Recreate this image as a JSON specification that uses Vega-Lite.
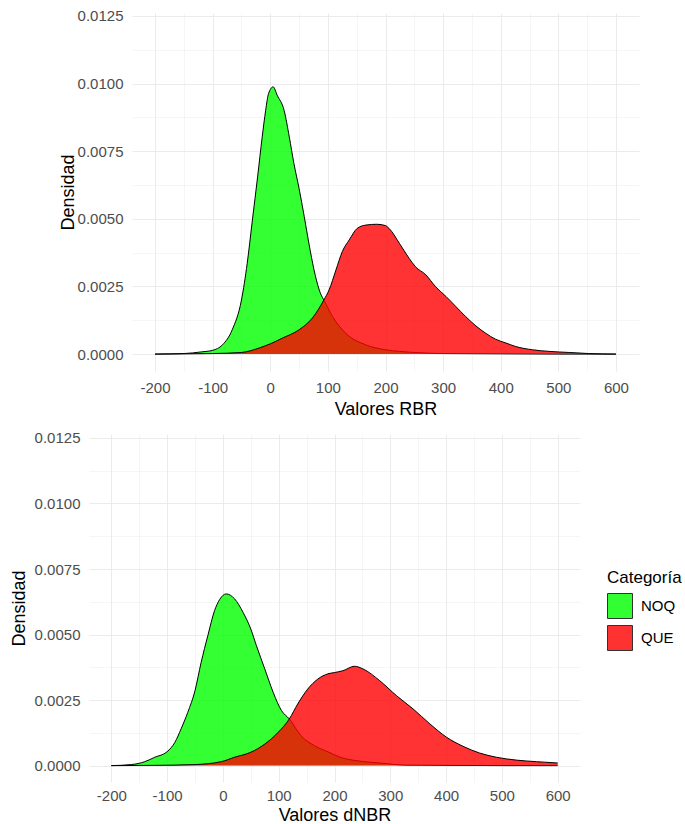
{
  "$schema": "https://vega.github.io/schema/vega-lite/v6.json",
  "background": "white",
  "padding": {"left": 10, "top": 8, "right": 0, "bottom": 0},
  "spacing": 12,
  "center": true,
  "resolve": {"legend": {"fill": "independent"}},
  "config": {
    "view": {"stroke": null},
    "font": "Liberation Sans",
    "axis": {
      "domain": false, "ticks": false, "gridColor": "#ebebeb",
      "labelFont": "Liberation Sans", "labelFontSize": 15, "labelColor": "#4d4d4d",
      "titleFont": "Liberation Sans", "titleFontSize": 18, "titleFontWeight": "normal", "titleColor": "black",
      "labelOverlap": false, "labelFlush": false
    }
  },
  "datasets": {
    "rbr": [
      {"cat": "NOQ", "x": -200, "d": 0}, {"cat": "NOQ", "x": -150, "d": 0.00002}, {"cat": "NOQ", "x": -120, "d": 0.00008},
      {"cat": "NOQ", "x": -100, "d": 0.00014}, {"cat": "NOQ", "x": -83, "d": 0.00034}, {"cat": "NOQ", "x": -66, "d": 0.0009},
      {"cat": "NOQ", "x": -50, "d": 0.002}, {"cat": "NOQ", "x": -40, "d": 0.00336}, {"cat": "NOQ", "x": -31, "d": 0.00496},
      {"cat": "NOQ", "x": -22, "d": 0.00655}, {"cat": "NOQ", "x": -14, "d": 0.00803}, {"cat": "NOQ", "x": -8, "d": 0.00901},
      {"cat": "NOQ", "x": -3, "d": 0.00963}, {"cat": "NOQ", "x": 5, "d": 0.00988}, {"cat": "NOQ", "x": 12, "d": 0.00957},
      {"cat": "NOQ", "x": 24, "d": 0.00901}, {"cat": "NOQ", "x": 33, "d": 0.00803}, {"cat": "NOQ", "x": 41, "d": 0.00705},
      {"cat": "NOQ", "x": 50, "d": 0.00612}, {"cat": "NOQ", "x": 59, "d": 0.00508}, {"cat": "NOQ", "x": 67, "d": 0.0041},
      {"cat": "NOQ", "x": 76, "d": 0.00311}, {"cat": "NOQ", "x": 85, "d": 0.00237}, {"cat": "NOQ", "x": 96, "d": 0.00188},
      {"cat": "NOQ", "x": 108, "d": 0.00139}, {"cat": "NOQ", "x": 131, "d": 0.00077}, {"cat": "NOQ", "x": 166, "d": 0.00034},
      {"cat": "NOQ", "x": 200, "d": 0.00016}, {"cat": "NOQ", "x": 224, "d": 0.0001}, {"cat": "NOQ", "x": 260, "d": 0.00005},
      {"cat": "NOQ", "x": 300, "d": 0.00002}, {"cat": "NOQ", "x": 400, "d": 0.00001}, {"cat": "NOQ", "x": 500, "d": 0},
      {"cat": "NOQ", "x": 600, "d": 0},
      {"cat": "QUE", "x": -200, "d": 0}, {"cat": "QUE", "x": -140, "d": 0.00001}, {"cat": "QUE", "x": -100, "d": 0.00002},
      {"cat": "QUE", "x": -50, "d": 0.00006}, {"cat": "QUE", "x": -20, "d": 0.00022}, {"cat": "QUE", "x": 0, "d": 0.00038},
      {"cat": "QUE", "x": 21, "d": 0.00059}, {"cat": "QUE", "x": 50, "d": 0.0009}, {"cat": "QUE", "x": 73, "d": 0.00133},
      {"cat": "QUE", "x": 93, "d": 0.002}, {"cat": "QUE", "x": 102, "d": 0.00237}, {"cat": "QUE", "x": 114, "d": 0.00311},
      {"cat": "QUE", "x": 125, "d": 0.00379}, {"cat": "QUE", "x": 137, "d": 0.00422}, {"cat": "QUE", "x": 151, "d": 0.00465},
      {"cat": "QUE", "x": 166, "d": 0.00477}, {"cat": "QUE", "x": 185, "d": 0.0048}, {"cat": "QUE", "x": 200, "d": 0.00475},
      {"cat": "QUE", "x": 206, "d": 0.00465}, {"cat": "QUE", "x": 224, "d": 0.0041}, {"cat": "QUE", "x": 241, "d": 0.00354},
      {"cat": "QUE", "x": 252, "d": 0.00323}, {"cat": "QUE", "x": 270, "d": 0.00293}, {"cat": "QUE", "x": 287, "d": 0.00249},
      {"cat": "QUE", "x": 305, "d": 0.00213}, {"cat": "QUE", "x": 322, "d": 0.00176}, {"cat": "QUE", "x": 339, "d": 0.00139},
      {"cat": "QUE", "x": 357, "d": 0.00104}, {"cat": "QUE", "x": 374, "d": 0.00077}, {"cat": "QUE", "x": 391, "d": 0.00055},
      {"cat": "QUE", "x": 409, "d": 0.00041}, {"cat": "QUE", "x": 426, "d": 0.00028}, {"cat": "QUE", "x": 455, "d": 0.00016},
      {"cat": "QUE", "x": 484, "d": 0.0001}, {"cat": "QUE", "x": 519, "d": 0.00006}, {"cat": "QUE", "x": 553, "d": 0.00002},
      {"cat": "QUE", "x": 600, "d": 0}
    ],
    "dnbr": [
      {"cat": "NOQ", "x": -200, "d": 0}, {"cat": "NOQ", "x": -164, "d": 0.00004}, {"cat": "NOQ", "x": -140, "d": 0.00015},
      {"cat": "NOQ", "x": -122, "d": 0.00032}, {"cat": "NOQ", "x": -100, "d": 0.00053}, {"cat": "NOQ", "x": -86, "d": 0.00089},
      {"cat": "NOQ", "x": -75, "d": 0.0014}, {"cat": "NOQ", "x": -63, "d": 0.00203}, {"cat": "NOQ", "x": -50, "d": 0.00286},
      {"cat": "NOQ", "x": -39, "d": 0.00394}, {"cat": "NOQ", "x": -27, "d": 0.00496}, {"cat": "NOQ", "x": -15, "d": 0.00591},
      {"cat": "NOQ", "x": -6, "d": 0.00633}, {"cat": "NOQ", "x": 6, "d": 0.00655}, {"cat": "NOQ", "x": 21, "d": 0.00636},
      {"cat": "NOQ", "x": 36, "d": 0.00585}, {"cat": "NOQ", "x": 50, "d": 0.00521}, {"cat": "NOQ", "x": 60, "d": 0.00458},
      {"cat": "NOQ", "x": 75, "d": 0.00369}, {"cat": "NOQ", "x": 90, "d": 0.0028}, {"cat": "NOQ", "x": 105, "d": 0.0021},
      {"cat": "NOQ", "x": 119, "d": 0.00178}, {"cat": "NOQ", "x": 140, "d": 0.00114}, {"cat": "NOQ", "x": 164, "d": 0.00076},
      {"cat": "NOQ", "x": 190, "d": 0.00051}, {"cat": "NOQ", "x": 210, "d": 0.00032}, {"cat": "NOQ", "x": 239, "d": 0.00019},
      {"cat": "NOQ", "x": 281, "d": 0.0001}, {"cat": "NOQ", "x": 329, "d": 0.00002}, {"cat": "NOQ", "x": 400, "d": 0.00001},
      {"cat": "NOQ", "x": 500, "d": 0}, {"cat": "NOQ", "x": 600, "d": 0},
      {"cat": "QUE", "x": -200, "d": 0}, {"cat": "QUE", "x": -122, "d": 0.00001}, {"cat": "QUE", "x": -50, "d": 0.00004},
      {"cat": "QUE", "x": -3, "d": 0.00015}, {"cat": "QUE", "x": 21, "d": 0.00032}, {"cat": "QUE", "x": 50, "d": 0.00051},
      {"cat": "QUE", "x": 75, "d": 0.00082}, {"cat": "QUE", "x": 99, "d": 0.00127}, {"cat": "QUE", "x": 119, "d": 0.00178},
      {"cat": "QUE", "x": 134, "d": 0.00235}, {"cat": "QUE", "x": 152, "d": 0.00292}, {"cat": "QUE", "x": 170, "d": 0.0033},
      {"cat": "QUE", "x": 188, "d": 0.0035}, {"cat": "QUE", "x": 200, "d": 0.00355}, {"cat": "QUE", "x": 215, "d": 0.00362},
      {"cat": "QUE", "x": 236, "d": 0.00379}, {"cat": "QUE", "x": 251, "d": 0.00369}, {"cat": "QUE", "x": 281, "d": 0.00324},
      {"cat": "QUE", "x": 311, "d": 0.00267}, {"cat": "QUE", "x": 341, "d": 0.00216}, {"cat": "QUE", "x": 371, "d": 0.00159},
      {"cat": "QUE", "x": 401, "d": 0.00108}, {"cat": "QUE", "x": 430, "d": 0.00074}, {"cat": "QUE", "x": 460, "d": 0.00048},
      {"cat": "QUE", "x": 490, "d": 0.00032}, {"cat": "QUE", "x": 526, "d": 0.00021}, {"cat": "QUE", "x": 562, "d": 0.00015},
      {"cat": "QUE", "x": 600, "d": 0.0001}
    ]
  },
  "vconcat": [
    {
      "width": 507,
      "height": 358,
      "data": {"name": "rbr"},
      "encoding": {
        "x": {
          "field": "x", "type": "quantitative", "title": "Valores RBR",
          "scale": {"domain": [-240, 640], "nice": false, "zero": false},
          "axis": {
            "values": [-200, -150, -100, -50, 0, 50, 100, 150, 200, 250, 300, 350, 400, 450, 500, 550, 600],
            "labelExpr": "datum.value % 100 === 0 ? '' + datum.value : ''",
            "gridWidth": {"condition": {"test": "datum.value % 100 === 0", "value": 1}, "value": 0.5},
            "labelPadding": 9, "titlePadding": 5
          }
        },
        "y": {
          "field": "d", "type": "quantitative", "title": "Densidad", "stack": null,
          "scale": {"domain": [-0.000625, 0.01261], "nice": false, "zero": false},
          "axis": {
            "values": [0, 0.00125, 0.0025, 0.00375, 0.005, 0.00625, 0.0075, 0.00875, 0.01, 0.01125, 0.0125],
            "labelExpr": "round(datum.value * 10000) % 25 === 0 ? format(datum.value, '.4f') : ''",
            "gridWidth": {"condition": {"test": "round(datum.value * 10000) % 25 === 0", "value": 1}, "value": 0.5},
            "labelPadding": 9, "titlePadding": 0
          }
        }
      },
      "layer": [
        {
          "transform": [{"filter": "datum.cat === 'NOQ'"}],
          "mark": {"type": "area", "fillOpacity": 0.8, "interpolate": "monotone"},
          "encoding": {"fill": {"field": "cat", "type": "nominal", "scale": {"domain": ["NOQ", "QUE"], "range": ["#00ff00", "#ff0000"]}, "legend": null}}
        },
        {
          "transform": [{"filter": "datum.cat === 'NOQ'"}],
          "mark": {"type": "line", "color": "black", "strokeWidth": 1, "interpolate": "monotone"},
          "encoding": {}
        },
        {
          "transform": [{"filter": "datum.cat === 'QUE'"}],
          "mark": {"type": "area", "fillOpacity": 0.8, "interpolate": "monotone"},
          "encoding": {"fill": {"field": "cat", "type": "nominal", "scale": {"domain": ["NOQ", "QUE"], "range": ["#00ff00", "#ff0000"]}, "legend": null}}
        },
        {
          "transform": [{"filter": "datum.cat === 'QUE'"}],
          "mark": {"type": "line", "color": "black", "strokeWidth": 1, "interpolate": "monotone"},
          "encoding": {}
        }
      ]
    },
    {
      "width": 491,
      "height": 348,
      "data": {"name": "dnbr"},
      "encoding": {
        "x": {
          "field": "x", "type": "quantitative", "title": "Valores dNBR",
          "scale": {"domain": [-240, 640], "nice": false, "zero": false},
          "axis": {
            "values": [-200, -150, -100, -50, 0, 50, 100, 150, 200, 250, 300, 350, 400, 450, 500, 550, 600],
            "labelExpr": "datum.value % 100 === 0 ? '' + datum.value : ''",
            "gridWidth": {"condition": {"test": "datum.value % 100 === 0", "value": 1}, "value": 0.5},
            "labelPadding": 6, "titlePadding": 3
          }
        },
        "y": {
          "field": "d", "type": "quantitative", "title": "Densidad", "stack": null,
          "scale": {"domain": [-0.000625, 0.01265], "nice": false, "zero": false},
          "axis": {
            "values": [0, 0.00125, 0.0025, 0.00375, 0.005, 0.00625, 0.0075, 0.00875, 0.01, 0.01125, 0.0125],
            "labelExpr": "round(datum.value * 10000) % 25 === 0 ? format(datum.value, '.4f') : ''",
            "gridWidth": {"condition": {"test": "round(datum.value * 10000) % 25 === 0", "value": 1}, "value": 0.5},
            "labelPadding": 9, "titlePadding": 6
          }
        }
      },
      "layer": [
        {
          "transform": [{"filter": "datum.cat === 'NOQ'"}],
          "mark": {"type": "area", "fillOpacity": 0.8, "interpolate": "monotone"},
          "encoding": {"fill": {
            "field": "cat", "type": "nominal",
            "scale": {"domain": ["NOQ", "QUE"], "range": ["#00ff00", "#ff0000"]},
            "legend": {
              "title": "Categoría", "orient": "none", "legendX": 518, "legendY": 136, "padding": 0,
              "symbolType": "square", "symbolSize": 625, "symbolStrokeColor": "black", "symbolStrokeWidth": 1,
              "symbolOpacity": 0.8, "labelFont": "Liberation Sans", "labelFontSize": 15, "labelColor": "black",
              "labelOffset": 8, "titleFont": "Liberation Sans", "titleFontSize": 17, "titleFontWeight": "normal",
              "titleColor": "black", "titlePadding": 6, "rowPadding": 2
            }
          }}
        },
        {
          "transform": [{"filter": "datum.cat === 'NOQ'"}],
          "mark": {"type": "line", "color": "black", "strokeWidth": 1, "interpolate": "monotone"},
          "encoding": {}
        },
        {
          "transform": [{"filter": "datum.cat === 'QUE'"}],
          "mark": {"type": "area", "fillOpacity": 0.8, "interpolate": "monotone"},
          "encoding": {"fill": {"field": "cat", "type": "nominal", "scale": {"domain": ["NOQ", "QUE"], "range": ["#00ff00", "#ff0000"]}}}
        },
        {
          "transform": [{"filter": "datum.cat === 'QUE'"}],
          "mark": {"type": "line", "color": "black", "strokeWidth": 1, "interpolate": "monotone"},
          "encoding": {}
        }
      ]
    }
  ]
}
